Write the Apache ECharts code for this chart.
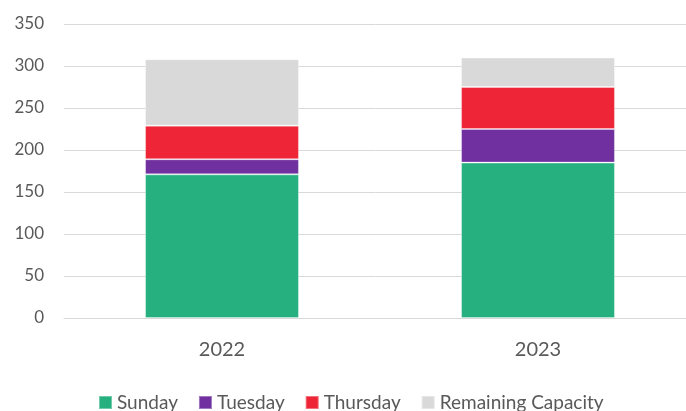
<!doctype html>
<html>
    <head>
        <meta charset="utf-8">
        <title>Stacked capacity</title>
        <style>
            html, body { margin: 0; padding: 0; background: #fff; }
            #main { width: 686px; height: 411px; }
        </style>
    </head>
    <body>
        <div id="main"></div>
        <script src="https://cdn.jsdelivr.net/npm/echarts@6/dist/echarts.min.js"></script>
        <script>
            var years = ['2022', '2023'];
            var sunday = [171, 185];
            var tuesday = [18, 40];
            var thursday = [40, 50];
            var remaining = [79, 35];

            var chart = echarts.init(document.getElementById('main'));

            var font = 'Lato, "Open Sans", sans-serif';

            function bar(name, data, color) {
                return {
                    name: name,
                    type: 'bar',
                    stack: 'total',
                    data: data,
                    barWidth: '48.7%',
                    itemStyle: {
                        color: color,
                        borderColor: 'rgba(255,255,255,0.35)',
                        borderWidth: 1
                    }
                };
            }

            chart.setOption({
                animation: false,
                textStyle: { fontFamily: font },
                grid: { left: 64, width: 632, top: 24, bottom: 93, outerBoundsMode: 'none' },
                legend: {
                    top: 388,
                    left: 93,
                    itemWidth: 13,
                    itemHeight: 13,
                    itemGap: 20,
                    icon: 'rect',
                    textStyle: { fontFamily: font, fontSize: 19, color: '#595959' },
                    data: ['Sunday', 'Tuesday', 'Thursday', 'Remaining Capacity']
                },
                xAxis: {
                    type: 'category',
                    data: years,
                    axisLine: { lineStyle: { color: '#d9d9d9' } },
                    axisTick: { show: false },
                    axisLabel: { fontSize: 20, color: '#595959', margin: 22 }
                },
                yAxis: {
                    type: 'value',
                    min: 0,
                    max: 350,
                    interval: 50,
                    axisLine: { show: false },
                    axisTick: { show: false },
                    splitLine: { lineStyle: { color: '#d9d9d9' } },
                    axisLabel: { fontSize: 17, color: '#595959', margin: 20 }
                },
                series: [
                    bar('Sunday', sunday, '#26b07f'),
                    bar('Tuesday', tuesday, '#7030a0'),
                    bar('Thursday', thursday, '#ee2536'),
                    bar('Remaining Capacity', remaining, '#d9d9d9')
                ]
            });

            window.addEventListener('resize', function () {
                chart.resize();
            });
        </script>
    </body>
</html>
